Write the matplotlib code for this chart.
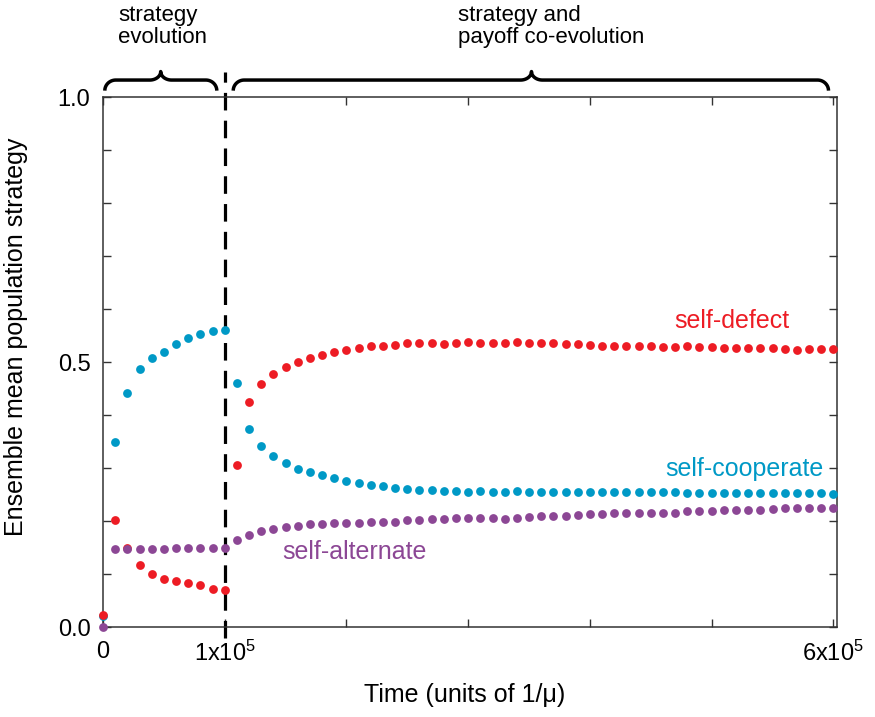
import matplotlib
matplotlib.use("Agg")
import matplotlib.pyplot as plt
import numpy as np

plt.rcParams["font.family"] = ["Liberation Sans", "DejaVu Sans"]
plt.rcParams["mathtext.fontset"] = "custom"
plt.rcParams["mathtext.rm"] = "Liberation Sans"
plt.rcParams["mathtext.it"] = "Liberation Sans:italic"

# time in units of 1e4 (1/mu)
time_phase1 = [0, 1, 2, 3, 4, 5, 6, 7, 8, 9, 10]
time_phase2 = [11, 12, 13, 14, 15, 16, 17, 18, 19, 20,
               21, 22, 23, 24, 25, 26, 27, 28, 29, 30,
               31, 32, 33, 34, 35, 36, 37, 38, 39, 40,
               41, 42, 43, 44, 45, 46, 47, 48, 49, 50,
               51, 52, 53, 54, 55, 56, 57, 58, 59, 60]

cooperate_1 = [0.020, 0.349, 0.441, 0.486, 0.507, 0.518, 0.534, 0.545, 0.553, 0.558, 0.561]
defect_1 = [0.022, 0.201, 0.150, 0.117, 0.100, 0.091, 0.086, 0.083, 0.079, 0.072, 0.070]
alternate_1 = [0.000, 0.147, 0.147, 0.147, 0.148, 0.148, 0.149, 0.149, 0.150, 0.150, 0.150]

defect_2 = [0.306, 0.425, 0.458, 0.478, 0.490, 0.500, 0.507, 0.513, 0.518, 0.522,
            0.527, 0.531, 0.531, 0.533, 0.535, 0.536, 0.536, 0.534, 0.536, 0.538,
            0.535, 0.535, 0.536, 0.537, 0.536, 0.536, 0.535, 0.534, 0.534, 0.532,
            0.531, 0.531, 0.531, 0.530, 0.530, 0.529, 0.528, 0.530, 0.529, 0.528,
            0.527, 0.527, 0.527, 0.526, 0.526, 0.525, 0.523, 0.524, 0.525, 0.525]
cooperate_2 = [0.460, 0.374, 0.341, 0.323, 0.309, 0.299, 0.292, 0.287, 0.282, 0.276,
               0.272, 0.268, 0.266, 0.263, 0.260, 0.259, 0.258, 0.257, 0.256, 0.255,
               0.256, 0.255, 0.255, 0.257, 0.255, 0.255, 0.255, 0.255, 0.255, 0.254,
               0.254, 0.255, 0.255, 0.255, 0.255, 0.255, 0.255, 0.252, 0.253, 0.253,
               0.253, 0.253, 0.253, 0.253, 0.253, 0.253, 0.253, 0.253, 0.252, 0.251]
alternate_2 = [0.165, 0.174, 0.181, 0.184, 0.189, 0.191, 0.194, 0.194, 0.196, 0.197,
               0.197, 0.198, 0.198, 0.199, 0.201, 0.202, 0.204, 0.204, 0.206, 0.205,
               0.205, 0.205, 0.204, 0.205, 0.207, 0.209, 0.209, 0.210, 0.212, 0.213,
               0.214, 0.216, 0.215, 0.216, 0.215, 0.215, 0.216, 0.218, 0.218, 0.219,
               0.221, 0.221, 0.221, 0.221, 0.222, 0.224, 0.224, 0.224, 0.225, 0.224]

RED = "#ED1C24"
CYAN = "#0099C6"
PURPLE = "#8C4795"
SCALE = 1e4
SWITCH = 1e5


def draw_brace(ax, x0, x1, xtip, y0, ymid, ytip, rx):
    """Curly brace opening downward, drawn in data coordinates."""
    t = np.linspace(0, np.pi / 2, 20)
    ry = ymid - y0
    ry2 = ytip - ymid
    left_end = np.c_[x0 + rx - rx * np.cos(t), y0 + ry * np.sin(t)]
    tip_left = np.c_[xtip - rx + rx * np.sin(t), ymid + ry2 * (1 - np.cos(t))]
    tip_right = np.c_[xtip + rx - rx * np.cos(t), ytip - ry2 * np.sin(t)][1:]
    right_end = np.c_[x1 - rx + rx * np.sin(t), ymid - ry * (1 - np.cos(t))]
    pts = np.vstack([left_end, tip_left, tip_right, right_end])
    ax.plot(pts[:, 0], pts[:, 1], color="black", lw=2.5, clip_on=False,
            solid_capstyle="butt")


fig = plt.figure(figsize=(8.75, 7.17), dpi=100)
ax = fig.add_axes([0.1177, 0.1255, 0.8389, 0.7392])

t1 = np.array(time_phase1) * SCALE
t2 = np.array(time_phase2) * SCALE

ax.plot([SWITCH, SWITCH], [-0.02, 1.047], color="black", lw=2.3,
        dashes=(5.5, 3.2), clip_on=False, zorder=2)

for t, ys in [(t1, cooperate_1), (t2, cooperate_2)]:
    ax.scatter(t, ys, s=40, color=CYAN, linewidths=0, clip_on=False, zorder=3)
for t, ys in [(t1, defect_1), (t2, defect_2)]:
    ax.scatter(t, ys, s=40, color=RED, linewidths=0, clip_on=False, zorder=3)
for t, ys in [(t1, alternate_1), (t2, alternate_2)]:
    ax.scatter(t, ys, s=40, color=PURPLE, linewidths=0, clip_on=False, zorder=3)

ax.set_xlim(0, 6.03e5)
ax.set_ylim(0, 1)

ax.set_xticks([0, 1e5, 2e5, 3e5, 4e5, 5e5, 6e5])
ax.set_xticklabels(["0", "1x10$^{5}$", "", "", "", "", "6x10$^{5}$"])
ax.set_yticks(np.round(np.arange(0, 1.01, 0.1), 1))
ax.set_yticklabels(["0.0", "", "", "", "", "0.5", "", "", "", "", "1.0"])
ax.tick_params(direction="in", length=6, width=1.0, color="#333333",
               top=True, right=True, labelsize=17)
ax.tick_params(axis="x", pad=10)
ax.tick_params(axis="y", pad=9)
for sp in ax.spines.values():
    sp.set_linewidth(1.1)
    sp.set_color("#333333")

ax.set_ylabel("Ensemble mean population strategy", fontsize=18)
ax.yaxis.set_label_coords(-0.102, 0.547)
ax.set_xlabel("Time (units of 1/μ)", fontsize=18)
ax.xaxis.set_label_coords(0.493, -0.105)

ax.text(4.69e5, 0.564, "self-defect", color=RED, fontsize=18)
ax.text(4.62e5, 0.284, "self-cooperate", color=CYAN, fontsize=18)
ax.text(1.47e5, 0.128, "self-alternate", color=PURPLE, fontsize=18)

draw_brace(ax, 0.015e5, 0.935e5, 0.474e5, 1.012, 1.032, 1.048, 0.09e5)
draw_brace(ax, 1.07e5, 5.96e5, 3.52e5, 1.012, 1.032, 1.048, 0.09e5)

fig.text(0.135, 0.993, "strategy\nevolution", fontsize=16, va="top",
         ha="left", linespacing=1.05)
fig.text(0.523, 0.993, "strategy and\npayoff co-evolution", fontsize=16,
         va="top", ha="left", linespacing=1.05)

fig.savefig("out.png", dpi=100)
